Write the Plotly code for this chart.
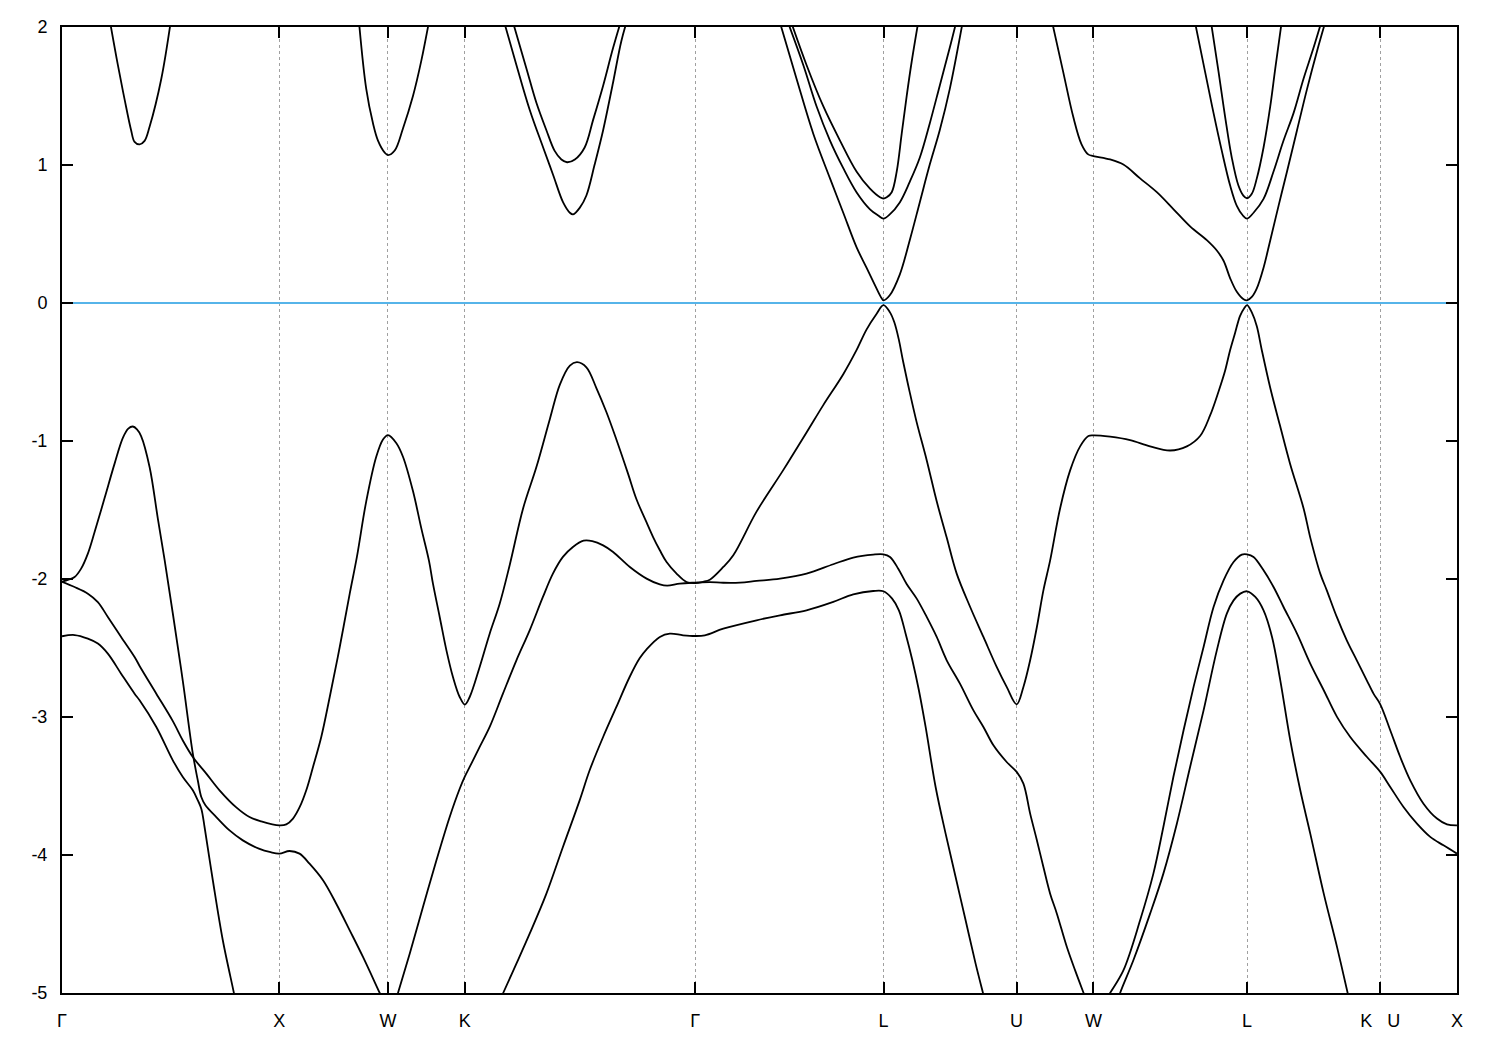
import plotly.graph_objects as go

# ---------------- k-path (units of 2*pi/a) ----------------
k_ticks = [0.0, 1.0, 1.5, 1.85355, 2.91421, 3.78024, 4.39261, 4.74616, 5.45327, 6.06564, 6.41919]
k_labels = ["Γ", "X", "W", "K", "Γ", "L", "U", "W", "L", "K\u00a0\u00a0\u00a0U", "X"]
y_ticks = [-5, -4, -3, -2, -1, 0, 1, 2]
y_labels = ["-5", "-4", "-3", "-2", "-1", "0", "1", "2"]

# ---------------- conduction bands ----------------
cb_gx_k = [0.214, 0.257, 0.288, 0.318, 0.334, 0.357, 0.380, 0.403, 0.457, 0.506]
cb_gx_e = [2.10, 1.725, 1.476, 1.252, 1.168, 1.150, 1.175, 1.277, 1.625, 2.10]

cb_w1_k = [1.363, 1.400, 1.431, 1.454, 1.485, 1.500, 1.531, 1.569, 1.615, 1.654, 1.696]
cb_w1_e = [2.10, 1.551, 1.302, 1.177, 1.090, 1.072, 1.105, 1.265, 1.500, 1.760, 2.10]

cb_kg1_k = [2.023, 2.091, 2.152, 2.214, 2.260, 2.306, 2.337, 2.352, 2.383, 2.413, 2.451, 2.490, 2.536, 2.574, 2.610]
cb_kg1_e = [2.10, 1.725, 1.401, 1.127, 0.928, 0.729, 0.654, 0.642, 0.691, 0.779, 1.003, 1.252, 1.600, 1.899, 2.10]

cb_kg2_k = [2.063, 2.137, 2.183, 2.229, 2.267, 2.298, 2.324, 2.360, 2.405, 2.444, 2.490, 2.536, 2.583]
cb_kg2_e = [2.10, 1.700, 1.451, 1.252, 1.102, 1.040, 1.020, 1.040, 1.127, 1.327, 1.575, 1.849, 2.10]

cb_l1a_k = [3.291, 3.380, 3.457, 3.534, 3.595, 3.656, 3.702, 3.748, 3.771, 3.780, 3.809, 3.855, 3.901, 3.947, 3.993, 4.039, 4.085, 4.152]
cb_l1a_e = [2.10, 1.625, 1.227, 0.903, 0.654, 0.405, 0.256, 0.106, 0.036, 0.019, 0.056, 0.206, 0.455, 0.729, 1.003, 1.252, 1.550, 2.10]

cb_l1b_k = [3.325, 3.411, 3.472, 3.534, 3.595, 3.656, 3.718, 3.756, 3.780, 3.809, 3.855, 3.901, 3.947, 3.993, 4.039, 4.085, 4.125]
cb_l1b_e = [2.10, 1.725, 1.426, 1.177, 0.977, 0.803, 0.679, 0.634, 0.612, 0.642, 0.729, 0.878, 1.052, 1.301, 1.575, 1.849, 2.10]

cb_l1c_k = [3.341, 3.426, 3.503, 3.580, 3.656, 3.718, 3.764, 3.780, 3.795, 3.818, 3.841, 3.864, 3.887, 3.910, 3.947]
cb_l1c_e = [2.10, 1.725, 1.426, 1.177, 0.953, 0.828, 0.766, 0.757, 0.766, 0.803, 0.953, 1.227, 1.501, 1.750, 2.10]

cb_w2_k = [4.547, 4.607, 4.653, 4.691, 4.722, 4.746, 4.823, 4.884, 4.961, 5.038, 5.115, 5.191, 5.268, 5.314,
           5.345, 5.375, 5.406, 5.437, 5.453, 5.475, 5.498, 5.529, 5.560, 5.598, 5.637, 5.683, 5.729, 5.775, 5.825]
cb_w2_e = [2.10, 1.675, 1.351, 1.152, 1.077, 1.065, 1.040, 1.003, 0.903, 0.803, 0.679, 0.555, 0.455, 0.380,
           0.306, 0.181, 0.081, 0.027, 0.019, 0.044, 0.106, 0.256, 0.455, 0.704, 0.953, 1.252, 1.550, 1.825, 2.10]

cb_l2b_k = [5.205, 5.260, 5.299, 5.337, 5.375, 5.406, 5.434, 5.453, 5.483, 5.529, 5.575, 5.621, 5.667, 5.713, 5.759, 5.807]
cb_l2b_e = [2.10, 1.675, 1.376, 1.102, 0.853, 0.704, 0.634, 0.612, 0.654, 0.754, 0.953, 1.177, 1.376, 1.625, 1.849, 2.10]

cb_l2c_k = [5.281, 5.322, 5.352, 5.383, 5.413, 5.436, 5.453, 5.475, 5.498, 5.529, 5.560, 5.583, 5.618]
cb_l2c_e = [2.10, 1.675, 1.351, 1.052, 0.853, 0.778, 0.759, 0.791, 0.903, 1.127, 1.426, 1.700, 2.10]

# ---------------- valence bands ----------------
vb_a_k = [0.000, 0.030, 0.058, 0.088, 0.119, 0.150, 0.196, 0.242, 0.280, 0.305, 0.326, 0.345, 0.364, 0.403,
          0.441, 0.472, 0.510, 0.556, 0.602, 0.625, 0.641, 0.660, 0.710, 0.771, 0.832, 0.906, 0.960, 1.000,
          1.047, 1.093, 1.139, 1.201, 1.262, 1.324, 1.385, 1.462, 1.477]
vb_a_e = [-2.020, -2.005, -1.986, -1.925, -1.816, -1.660, -1.413, -1.164, -0.977, -0.910, -0.895, -0.915, -0.964, -1.188,
          -1.562, -1.860, -2.250, -2.740, -3.265, -3.460, -3.580, -3.640, -3.725, -3.822, -3.894, -3.954, -3.980, -3.990,
          -3.971, -3.990, -4.063, -4.183, -4.353, -4.546, -4.739, -5.000, -5.050]

vb_m_k = [0.000, 0.058, 0.119, 0.165, 0.211, 0.272, 0.334, 0.357, 0.434, 0.510, 0.556, 0.602, 0.664, 0.725, 0.802,
          0.863, 0.917, 1.000, 1.032, 1.063, 1.094, 1.124, 1.155, 1.193, 1.232, 1.278, 1.324, 1.357, 1.400, 1.446,
          1.477, 1.500, 1.538, 1.569, 1.615, 1.654, 1.689, 1.707, 1.738, 1.769, 1.799, 1.830, 1.854, 1.876, 1.922,
          1.968, 2.014, 2.060, 2.122, 2.183, 2.245, 2.291, 2.337, 2.370, 2.413, 2.459, 2.505, 2.551, 2.605, 2.643,
          2.690, 2.720, 2.751, 2.782, 2.828, 2.874, 2.914, 2.950, 2.981, 3.043, 3.089, 3.196, 3.318, 3.426, 3.503,
          3.595, 3.656, 3.702, 3.748, 3.780, 3.810, 3.830, 3.850, 3.870, 3.900, 3.933, 3.979, 4.025, 4.071, 4.117,
          4.179, 4.240, 4.301, 4.347, 4.393, 4.424, 4.455, 4.486, 4.516, 4.547, 4.593, 4.639, 4.685, 4.723, 4.746,
          4.823, 4.915, 5.007, 5.099, 5.176, 5.237, 5.283, 5.322, 5.352, 5.375, 5.398, 5.421, 5.440, 5.453, 5.475,
          5.498, 5.521, 5.560, 5.605, 5.651, 5.713, 5.744, 5.790, 5.820, 5.866, 5.912, 5.958, 6.004, 6.035, 6.066,
          6.112, 6.158, 6.204, 6.265, 6.327, 6.373, 6.419]
vb_m_e = [-2.020, -2.058, -2.106, -2.167, -2.275, -2.420, -2.565, -2.630, -2.831, -3.030, -3.170, -3.290, -3.410,
          -3.531, -3.655, -3.725, -3.756, -3.785, -3.778, -3.736, -3.652, -3.531, -3.362, -3.145, -2.855, -2.493,
          -2.106, -1.840, -1.437, -1.114, -0.989, -0.957, -1.014, -1.114, -1.363, -1.637, -1.870, -2.034, -2.275,
          -2.517, -2.710, -2.855, -2.910, -2.855, -2.637, -2.396, -2.179, -1.900, -1.487, -1.189, -0.840, -0.591,
          -0.454, -0.429, -0.466, -0.616, -0.790, -0.989, -1.238, -1.420, -1.590, -1.696, -1.792, -1.877, -1.961,
          -2.022, -2.029, -2.020, -2.005, -1.913, -1.828, -1.512, -1.213, -0.939, -0.740, -0.516, -0.342, -0.193,
          -0.080, -0.015, -0.068, -0.140, -0.260, -0.420, -0.640, -0.865, -1.139, -1.437, -1.700, -1.961, -2.203,
          -2.420, -2.637, -2.782, -2.908, -2.782, -2.589, -2.348, -2.082, -1.865, -1.487, -1.213, -1.039, -0.964,
          -0.959, -0.969, -0.994, -1.039, -1.069, -1.039, -0.964, -0.815, -0.641, -0.491, -0.342, -0.217, -0.093,
          -0.038, -0.015, -0.068, -0.168, -0.342, -0.616, -0.890, -1.164, -1.487, -1.700, -1.961, -2.082, -2.275,
          -2.444, -2.589, -2.734, -2.831, -2.908, -3.096, -3.290, -3.459, -3.628, -3.736, -3.778, -3.785]

vb_lo_k = [0.000, 0.058, 0.119, 0.165, 0.211, 0.272, 0.334, 0.357, 0.434, 0.510, 0.556, 0.602, 0.625, 0.641,
           0.656, 0.694, 0.740, 0.791, 0.797]
vb_lo_e = [-2.415, -2.406, -2.432, -2.468, -2.541, -2.686, -2.831, -2.879, -3.072, -3.314, -3.435, -3.531, -3.604,
           -3.664, -3.797, -4.183, -4.618, -5.000, -5.050]

vb_p_k = [1.537, 1.546, 1.600, 1.661, 1.723, 1.784, 1.830, 1.854, 1.876, 1.922, 1.968, 2.029, 2.091, 2.152, 2.213,
          2.259, 2.305, 2.351, 2.400, 2.440, 2.490, 2.536, 2.613, 2.690, 2.751, 2.785, 2.843, 2.914, 2.981, 3.043,
          3.120, 3.196, 3.304, 3.426, 3.549, 3.641, 3.733, 3.780, 3.810, 3.848, 3.886, 3.933, 3.979, 4.025, 4.071,
          4.132, 4.194, 4.240, 4.286, 4.347, 4.393, 4.424, 4.455, 4.486, 4.516, 4.547, 4.578, 4.624, 4.662, 4.701,
          4.713]
vb_p_e = [-5.050, -5.000, -4.715, -4.377, -4.038, -3.724, -3.520, -3.430, -3.362, -3.217, -3.072, -2.831, -2.589,
          -2.372, -2.130, -1.961, -1.840, -1.768, -1.722, -1.725, -1.756, -1.804, -1.913, -1.997, -2.039, -2.048,
          -2.033, -2.026, -2.022, -2.027, -2.026, -2.014, -1.997, -1.961, -1.893, -1.845, -1.823, -1.821, -1.840,
          -1.925, -2.034, -2.142, -2.275, -2.420, -2.589, -2.758, -2.952, -3.072, -3.205, -3.326, -3.398, -3.483,
          -3.700, -3.893, -4.087, -4.280, -4.425, -4.667, -4.836, -5.000, -5.050]

vb_q_k = [2.016, 2.030, 2.091, 2.152, 2.229, 2.305, 2.382, 2.428, 2.490, 2.551, 2.612, 2.658, 2.690, 2.751, 2.797,
          2.858, 2.914, 2.958, 3.043, 3.196, 3.304, 3.426, 3.549, 3.641, 3.733, 3.780, 3.820, 3.851, 3.882, 3.913,
          3.943, 3.974, 4.020, 4.066, 4.112, 4.158, 4.204, 4.238, 4.246]
vb_q_e = [-5.050, -5.000, -4.787, -4.570, -4.280, -3.942, -3.604, -3.386, -3.145, -2.927, -2.710, -2.575, -2.510,
          -2.420, -2.396, -2.408, -2.413, -2.408, -2.360, -2.299, -2.263, -2.227, -2.166, -2.111, -2.087, -2.089,
          -2.142, -2.227, -2.396, -2.589, -2.806, -3.072, -3.507, -3.845, -4.159, -4.473, -4.787, -5.000, -5.050]

vb_r_k = [4.805, 4.823, 4.884, 4.961, 5.022, 5.068, 5.114, 5.161, 5.207, 5.253, 5.299, 5.345, 5.391, 5.429, 5.453,
          5.483, 5.529, 5.575, 5.621, 5.683, 5.744, 5.806, 5.867, 5.928, 6.005, 6.066, 6.112, 6.173, 6.235, 6.296,
          6.357, 6.419]
vb_r_e = [-5.050, -5.000, -4.836, -4.473, -4.135, -3.797, -3.435, -3.096, -2.782, -2.493, -2.203, -2.010, -1.877,
          -1.823, -1.821, -1.840, -1.937, -2.058, -2.203, -2.396, -2.613, -2.806, -2.999, -3.145, -3.290, -3.398,
          -3.507, -3.652, -3.773, -3.869, -3.930, -3.990]

vb_s_k = [4.860, 4.869, 4.930, 5.007, 5.068, 5.130, 5.191, 5.253, 5.314, 5.360, 5.391, 5.422, 5.453, 5.491, 5.529,
          5.568, 5.606, 5.652, 5.698, 5.744, 5.806, 5.867, 5.916, 5.926]
vb_s_e = [-5.050, -5.000, -4.763, -4.425, -4.135, -3.773, -3.362, -2.952, -2.517, -2.251, -2.155, -2.106, -2.089,
          -2.130, -2.227, -2.420, -2.734, -3.169, -3.531, -3.845, -4.280, -4.666, -5.000, -5.070]

bands = [
    (cb_gx_k, cb_gx_e), (cb_w1_k, cb_w1_e), (cb_kg1_k, cb_kg1_e), (cb_kg2_k, cb_kg2_e),
    (cb_l1a_k, cb_l1a_e), (cb_l1b_k, cb_l1b_e), (cb_l1c_k, cb_l1c_e),
    (cb_w2_k, cb_w2_e), (cb_l2b_k, cb_l2b_e), (cb_l2c_k, cb_l2c_e),
    (vb_a_k, vb_a_e), (vb_m_k, vb_m_e), (vb_lo_k, vb_lo_e), (vb_p_k, vb_p_e),
    (vb_q_k, vb_q_e), (vb_r_k, vb_r_e), (vb_s_k, vb_s_e),
]

fig = go.Figure()

# Fermi level
fig.add_trace(go.Scatter(x=[k_ticks[0], k_ticks[-1]], y=[0, 0], mode="lines",
                         line=dict(color="#56b4e9", width=2), hoverinfo="skip", showlegend=False))

for kk, ee in bands:
    fig.add_trace(go.Scatter(x=kk, y=ee, mode="lines",
                             line=dict(color="black", width=1.8, shape="spline", smoothing=1.0),
                             showlegend=False))

font = dict(family="Liberation Sans, Arial, sans-serif", size=18, color="black")

fig.update_layout(
    width=1500, height=1050,
    margin=dict(l=62, r=43, t=27, b=57),
    paper_bgcolor="white", plot_bgcolor="white",
    font=font,
    showlegend=False,
)
fig.update_xaxes(
    range=[k_ticks[0], k_ticks[-1]],
    tickmode="array", tickvals=k_ticks, ticktext=k_labels,
    ticks="inside", ticklen=11, tickwidth=2, tickcolor="black",
    showline=True, linewidth=2, linecolor="black", mirror="ticks",
    showgrid=True, gridcolor="#a0a0a0", gridwidth=1, griddash="3px,3px",
    zeroline=False, tickfont=font, ticklabelstandoff=10,
)
fig.update_yaxes(
    range=[-5, 2],
    tickmode="array", tickvals=y_ticks, ticktext=y_labels,
    ticks="inside", ticklen=11, tickwidth=2, tickcolor="black",
    showline=True, linewidth=2, linecolor="black", mirror="ticks",
    showgrid=False, zeroline=False, tickfont=font, ticklabelstandoff=9,
)

fig.write_html("out.html", config={"displayModeBar": False},
               post_script="document.body.style.margin='0';")
